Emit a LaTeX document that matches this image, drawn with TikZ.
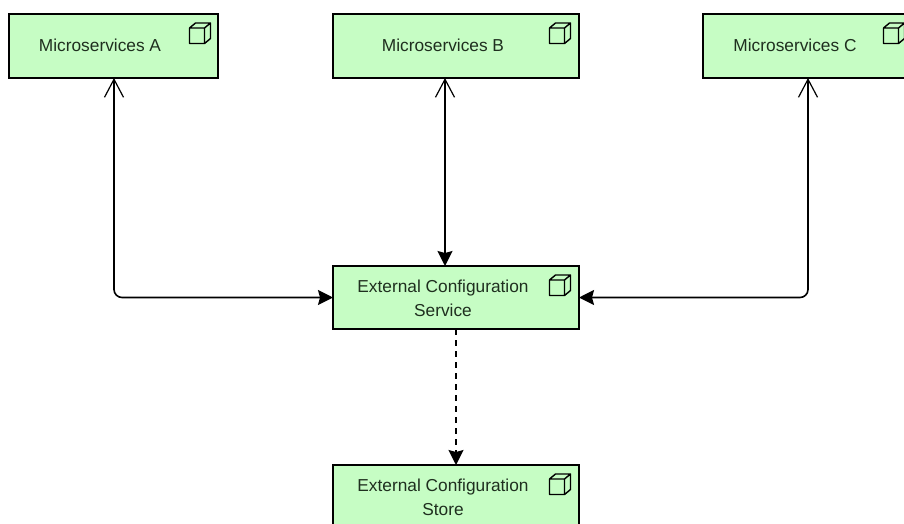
\documentclass[tikz,border=0pt]{standalone}
\usepackage{fontspec}
\setmainfont{Liberation Sans}
\usetikzlibrary{arrows.meta,calc}
\definecolor{boxfill}{HTML}{C6FDC4}
\definecolor{inktext}{HTML}{1F2F1F}
\tikzset{
  x=1pt,y=-1pt,
  boxnode/.style={draw=black,line width=1.4pt,fill=boxfill,minimum width=#1,minimum height=64pt,inner sep=0pt,outer sep=0pt,anchor=north west},
  boxnode/.default=246pt,
  labeltext/.style={font=\fontsize{17.3}{24}\selectfont,text=inktext,align=center,inner sep=0pt},
  link/.style={line width=1.6pt,draw=black,rounded corners=8pt},
  both/.style={link,{Straight Barb[length=18pt,width=19pt,line width=1.2pt]}-{Stealth[length=15pt,width=15pt,inset=2pt]}},
  depend/.style={line width=1.5pt,draw=black,dash pattern=on 6pt off 5pt,-{Stealth[length=15pt,width=15pt,inset=2pt]}},
  cubeicon/.pic={
    \draw[line width=1.4pt,line join=round,draw=black] (-10.5,-6) rectangle (4.5,9.5)
      (-10.5,-6) -- (-4.5,-11) -- (10.5,-11) -- (4.5,-6)
      (10.5,-11) -- (10.5,4.5) -- (4.5,9.5);
  }
}
\begin{document}
\begin{tikzpicture}
\useasboundingbox (0,0) rectangle (904,523);
\clip (0,0) rectangle (904,523);
\node[boxnode=209pt] (a) at (9,14) {};
\node[boxnode] (b) at (333,14) {};
\node[boxnode=210pt] (c) at (703,14) {};
\node[boxnode,minimum height=63pt] (s) at (333,266) {};
\node[boxnode] (t) at (333,465) {};
\node[labeltext] (la) at (100,45.5) {Microservices A};
\node[labeltext] (lb) at (443,45.5) {Microservices B};
\node[labeltext] (lc) at (795,45.5) {Microservices C};
\node[labeltext] (ls) at (443,298) {External Configuration\\Service};
\node[labeltext] (lt) at (443,497) {External Configuration\\Store};
\pic at (200,34) {cubeicon};
\pic at (560,34) {cubeicon};
\pic at (894,34) {cubeicon};
\pic at (560,286) {cubeicon};
\pic at (560,485) {cubeicon};
\coordinate (ax) at ($(a.south)+(0.5,0)$);
\coordinate (bx) at ($(b.south)+(-11,0)$);
\coordinate (cx) at (808,78);
\draw[both] (ax) |- (s.west);
\draw[both] (bx) -- (bx |- s.north);
\draw[both] (cx) |- (s.east);
\draw[depend] (s.south) -- (t.north);
\end{tikzpicture}
\end{document}
